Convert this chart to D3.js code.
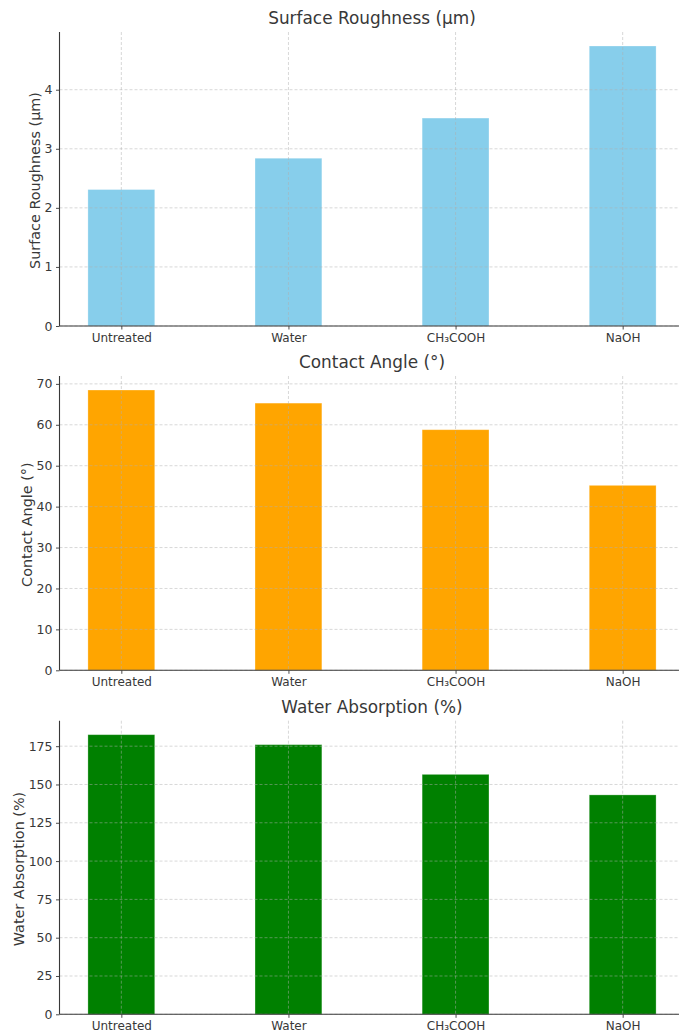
<!DOCTYPE html>
<html>
<head>
<meta charset="utf-8">
<script src="https://cdn.jsdelivr.net/npm/d3@7"></script>
<style>
  html, body { margin: 0; padding: 0; background: #fff; }
  svg { display: block; }
  text { font-family: "DejaVu Sans", sans-serif; }
</style>
</head>
<body>
<svg id="chart" width="679" height="1033"></svg>
<script>
const categories = ["Untreated", "Water", "CH\u2083COOH", "NaOH"];

const roughnessValues = [2.31, 2.84, 3.52, 4.74];
const contactAngleValues = [68.5, 65.3, 58.8, 45.2];
const absorptionValues = [182.5, 176.0, 156.6, 143.2];

const roughnessTicks = [0, 1, 2, 3, 4];
const contactAngleTicks = [0, 10, 20, 30, 40, 50, 60, 70];
const absorptionTicks = [0, 25, 50, 75, 100, 125, 150, 175];

const titles = ["Surface Roughness (\u00b5m)", "Contact Angle (\u00b0)", "Water Absorption (%)"];
const yLabels = ["Surface Roughness (\u00b5m)", "Contact Angle (\u00b0)", "Water Absorption (%)"];
const colors = ["#87CEEB", "#FFA500", "#008000"];

const panels = [
  { values: roughnessValues, ticks: roughnessTicks, title: titles[0], ylabel: yLabels[0], color: colors[0], top: 32, bottom: 326 },
  { values: contactAngleValues, ticks: contactAngleTicks, title: titles[1], ylabel: yLabels[1], color: colors[1], top: 376, bottom: 670.3 },
  { values: absorptionValues, ticks: absorptionTicks, title: titles[2], ylabel: yLabels[2], color: colors[2], top: 720.7, bottom: 1014.3 }
];

const svg = d3.select("#chart");
const left = 59.5, right = 684.5;
const barWidth = 0.4;

const x = d3.scaleLinear().domain([-0.37, 3.37]).range([left, right]);
const textColor = "#383838";

panels.forEach(p => {
  const g = svg.append("g");
  const ymax = d3.max(p.values) * 1.05;
  const y = d3.scaleLinear().domain([0, ymax]).range([p.bottom, p.top]);

  // bars
  g.selectAll("rect.bar").data(p.values).enter().append("rect")
    .attr("class", "bar")
    .attr("x", (d, i) => x(i - barWidth / 2))
    .attr("width", (d, i) => x(i + barWidth / 2) - x(i - barWidth / 2))
    .attr("y", d => y(d))
    .attr("height", d => y(0) - y(d))
    .attr("fill", p.color)
    .attr("stroke", "#ffffff")
    .attr("stroke-opacity", 0.35)
    .attr("stroke-width", 0.8);

  // grid (drawn above bars)
  const grid = g.append("g").attr("stroke", "#b0b0b0").attr("stroke-opacity", 0.7)
    .attr("stroke-width", 0.7).attr("stroke-dasharray", "3,2");
  grid.selectAll("line.h").data(p.ticks).enter().append("line")
    .attr("x1", left).attr("x2", right)
    .attr("y1", d => y(d)).attr("y2", d => y(d));
  grid.selectAll("line.v").data(categories).enter().append("line")
    .attr("x1", (d, i) => x(i)).attr("x2", (d, i) => x(i))
    .attr("y1", p.top).attr("y2", p.bottom);

  // y axis
  const yAxis = d3.axisLeft(y).tickValues(p.ticks).tickSize(3.5).tickPadding(3.5)
    .tickFormat(d3.format("d"));
  const yg = g.append("g").attr("transform", `translate(${left},0)`).call(yAxis);
  yg.select(".domain").remove();
  yg.selectAll(".tick line").attr("stroke", textColor).attr("stroke-width", 0.9);
  yg.selectAll(".tick text").attr("fill", textColor).style("font-size", "12.5px")
    .style("font-family", "DejaVu Sans, sans-serif");

  // x axis
  const xAxis = d3.axisBottom(x).tickValues(d3.range(categories.length))
    .tickSize(3.5).tickPadding(3.5).tickFormat(i => categories[i]);
  const xg = g.append("g").attr("transform", `translate(0,${p.bottom})`).call(xAxis);
  xg.select(".domain").remove();
  xg.selectAll(".tick line").attr("stroke", textColor).attr("stroke-width", 0.9);
  xg.selectAll(".tick text").attr("fill", textColor).style("font-size", "12px")
    .style("font-family", "DejaVu Sans, sans-serif");

  // spines (left, bottom)
  g.append("line").attr("x1", left).attr("x2", left).attr("y1", p.top).attr("y2", p.bottom)
    .attr("stroke", textColor).attr("stroke-width", 1.1);
  g.append("line").attr("x1", left).attr("x2", right).attr("y1", p.bottom).attr("y2", p.bottom)
    .attr("stroke", textColor).attr("stroke-width", 1.1);

  // title
  g.append("text").attr("x", (left + right) / 2).attr("y", p.top - 8)
    .attr("text-anchor", "middle").attr("fill", textColor)
    .style("font-size", "16.9px").text(p.title);

  // y label
  const bb = yg.node().getBBox();
  const lx = left + bb.x - 10;
  g.append("text")
    .attr("transform", `translate(${lx},${(p.top + p.bottom) / 2 + 1.5}) rotate(-90)`)
    .attr("text-anchor", "middle").attr("dominant-baseline", "central")
    .attr("fill", textColor).style("font-size", "14.4px").text(p.ylabel);
});
</script>
</body>
</html>
